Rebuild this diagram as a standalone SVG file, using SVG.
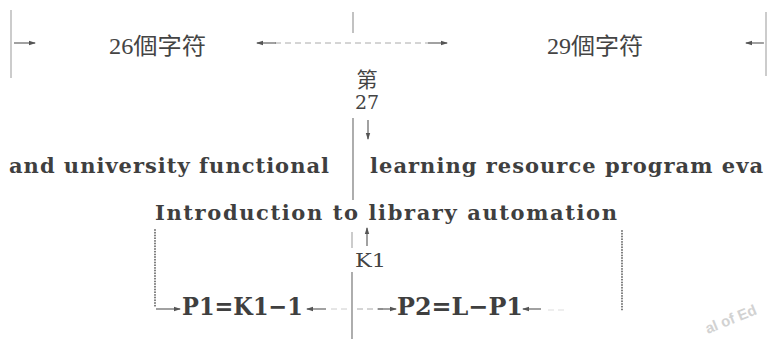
<svg xmlns="http://www.w3.org/2000/svg" width="768" height="339" viewBox="0 0 768 339">
<defs>
<marker id="ah" markerWidth="7" markerHeight="6" refX="6" refY="3" orient="auto" markerUnits="userSpaceOnUse">
<path d="M0,0.8 L7,3 L0,5.2 Z" fill="#555"/>
</marker>
<style>
.ln{stroke:#777;stroke-width:1.2;fill:none}
.ar{stroke:#555;stroke-width:1.1;fill:none;marker-end:url(#ah)}
.dash{stroke:#aaa;stroke-width:1;stroke-dasharray:6 4;fill:none}
.dot{stroke:#666;stroke-width:1.8;stroke-dasharray:0.1 2.6;stroke-linecap:round;fill:none}
.cjk{font-family:"Liberation Serif","Noto Sans CJK TC",serif;font-size:23px;fill:#444}
.en{font-family:"DejaVu Serif",serif;font-weight:bold;font-size:21px;fill:#3f3f3f}
.reg{font-family:"DejaVu Serif","Noto Sans CJK TC",serif;font-size:19px;fill:#444}
.eq{font-family:"DejaVu Serif",serif;font-weight:bold;font-size:25px;fill:#3f3f3f}
</style>
</defs>
<rect width="768" height="339" fill="#fff"/>
<g id="connectors">
<line class="ln" x1="11" y1="10" x2="11" y2="78" style="stroke:#aaa"/>
<line class="ln" x1="766" y1="12" x2="766" y2="76" style="stroke:#aaa"/>
<line class="ln" x1="353" y1="12" x2="353" y2="33" style="stroke:#999"/>
<line class="ar" x1="14" y1="43" x2="35" y2="43"/>
<line class="dash" x1="275" y1="43" x2="428" y2="43"/>
<line class="ar" x1="276" y1="43" x2="257" y2="43"/>
<line class="ar" x1="428" y1="43" x2="447" y2="43"/>
<line class="ar" x1="764" y1="43" x2="746" y2="43"/>
<line class="ln" x1="353" y1="118" x2="353" y2="200"/>
<line class="ln" x1="352" y1="232" x2="352" y2="248" style="stroke:#aaa"/>
<line class="ln" x1="352" y1="272" x2="352" y2="339"/>
<line class="ar" x1="368" y1="120" x2="368" y2="139"/>
<line class="ar" x1="367" y1="246" x2="367" y2="228"/>
<line class="dot" x1="155" y1="230" x2="155" y2="306"/>
<line class="dot" x1="622" y1="231" x2="622" y2="310"/>
<line class="ar" x1="156" y1="309" x2="180" y2="309"/>
<line class="ar" x1="326" y1="309" x2="307" y2="309"/>
<line class="dash" x1="331" y1="309" x2="348" y2="309" style="stroke:#ccc"/>
<line class="dash" x1="357" y1="309" x2="384" y2="309"/>
<line class="ar" x1="378" y1="309" x2="396" y2="309"/>
<line class="ar" x1="541" y1="309" x2="523" y2="309"/>
<line class="dash" x1="548" y1="310" x2="568" y2="310" style="stroke:#ddd"/>
</g>
<g id="label-26"><text class="cjk" x="109" y="54" textLength="97" lengthAdjust="spacingAndGlyphs">26個字符</text></g>
<g id="label-29"><text class="cjk" x="547" y="54" textLength="96" lengthAdjust="spacingAndGlyphs">29個字符</text></g>
<g id="label-27">
<text class="reg" x="367" y="87" text-anchor="middle" style="font-family:'Liberation Serif','Noto Sans CJK TC',serif;font-size:21px">第</text>
<text class="reg" x="367" y="109" text-anchor="middle">27</text>
</g>
<g id="line1-left"><text class="en" x="9" y="173" textLength="320" lengthAdjust="spacing">and university functional</text></g>
<g id="line1-right"><text class="en" x="370" y="173" textLength="393" lengthAdjust="spacing">learning resource program eva</text></g>
<g id="line2"><text class="en" x="155" y="220" textLength="462" lengthAdjust="spacing">Introduction to library automation</text></g>
<g id="label-k1"><text class="reg" x="355" y="267" textLength="31" lengthAdjust="spacingAndGlyphs">K1</text></g>
<g id="p1"><text class="eq" x="182" y="315" textLength="121" lengthAdjust="spacingAndGlyphs">P1=K1−1</text></g>
<g id="p2"><text class="eq" x="397" y="315" textLength="126" lengthAdjust="spacingAndGlyphs">P2=L−P1</text></g>
<text x="732" y="324" font-family="Liberation Sans, sans-serif" font-weight="bold" font-size="15" fill="#d2d2d2" text-anchor="middle" transform="rotate(-22 732 322)">al of Ed</text>
</svg>
